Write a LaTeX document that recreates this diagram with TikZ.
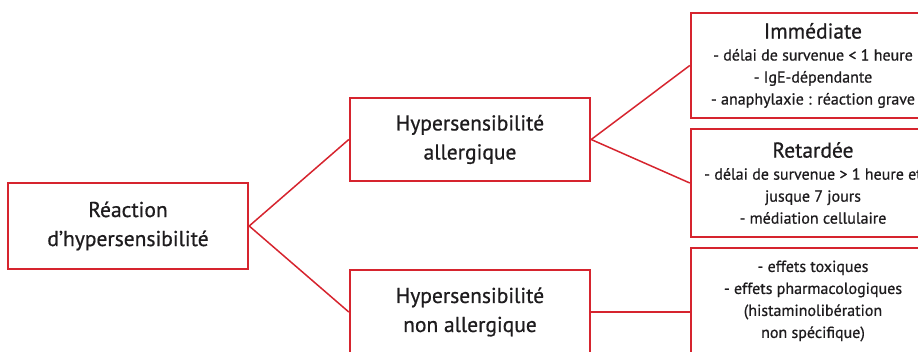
\documentclass[tikz,border=0pt]{standalone}
\usepackage{fontspec}
\setmainfont{PT Sans}[UprightFeatures={FakeBold=0.7}]
\definecolor{boxred}{RGB}{214,36,46}
\definecolor{inkgray}{RGB}{30,28,30}

\begin{document}
\begin{tikzpicture}[x=1pt,y=-1pt,
	box/.style={draw=boxred,line width=2.4pt,align=center,text=inkgray,inner sep=0pt},
	link/.style={draw=boxred,line width=1.5pt},
	big/.style={font=\fontsize{21.5}{29}\selectfont},
	small/.style={font=\fontsize{16}{22}\selectfont}]
	\useasboundingbox (0,0) rectangle (918,351);
	\clip (0,0) rectangle (918,351);
	\node[box,big,minimum width=240pt,minimum height=86pt] (R) at (128,226) {Réaction\\d’hypersensibilité};
	\node[box,big,minimum width=240pt,minimum height=83pt] (HA) at (470,139.5) {Hypersensibilité\\allergique};
	\node[box,big,minimum width=240pt,minimum height=84pt] (HN) at (470,312) {Hypersensibilité\\non allergique};
	\node[box,small,minimum width=244pt,minimum height=105pt] (I) at (813,65.5)
		{{\fontsize{21.5}{24}\selectfont Immédiate}\\- délai de survenue < 1 heure\\- IgE-dépendante\\- anaphylaxie : réaction grave};
	\node[box,small,minimum width=244pt,minimum height=108pt] (D) at (813,183)
		{{\fontsize{21.5}{24}\selectfont Retardée}\\- délai de survenue > 1 heure et\\jusque 7 jours\\- médiation cellulaire};
	\node[box,small,minimum width=244pt,minimum height=106pt] (N) at (813,301)
		{- effets toxiques\\- effets pharmacologiques\\(histaminolibération\\non spécifique)};
	\draw[link] (R.east) -- (HA.west);
	\draw[link] (R.east) -- (HN.west);
	\draw[link] (HA.east) -- (I.west);
	\draw[link] (HA.east) -- (D.west);
	\draw[link] (HN.east) -- (HN.east -| N.west);
\end{tikzpicture}
\end{document}
